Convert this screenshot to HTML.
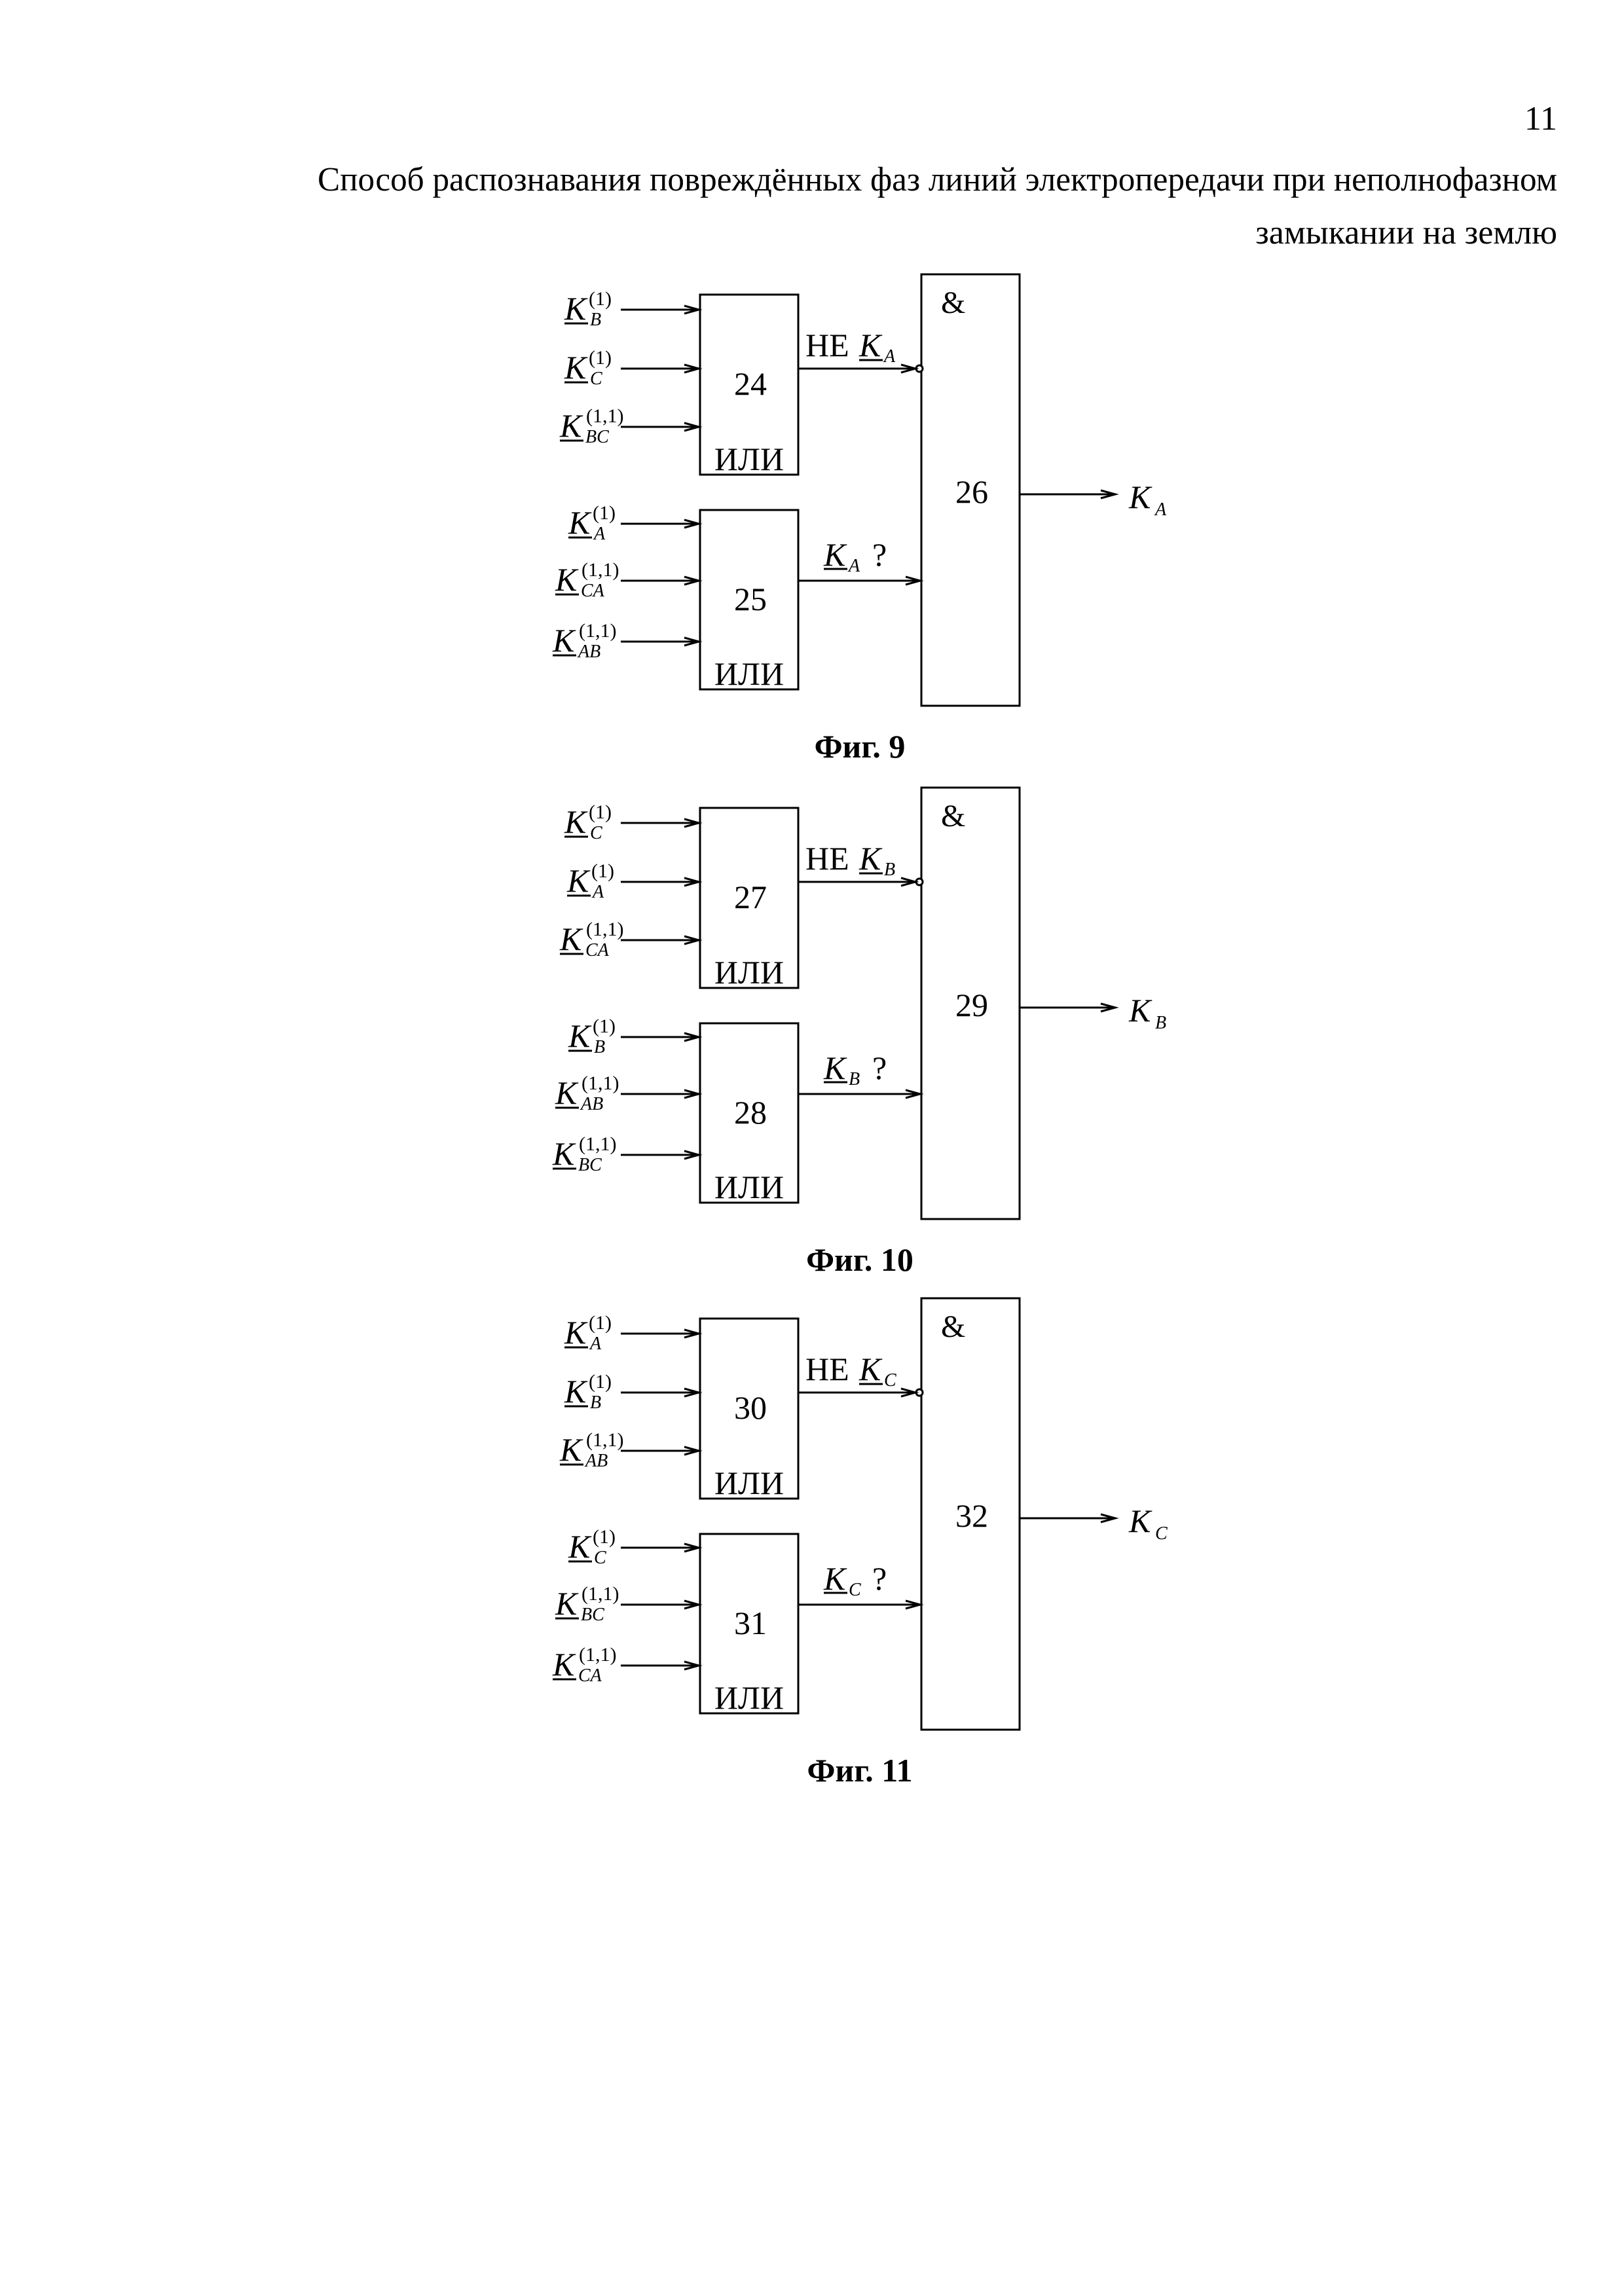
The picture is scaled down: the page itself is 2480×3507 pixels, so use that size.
<!DOCTYPE html>
<html><head><meta charset="utf-8"><style>
html,body{margin:0;padding:0;background:#fff}
svg{display:block}
text{font-family:"Liberation Serif",serif;fill:#000}
.K{font-size:50px;font-style:italic}
.sp{font-size:30px}
.sb{font-size:28px;font-style:italic}
.n{font-size:50px;text-anchor:middle}
.u{stroke:#000;stroke-width:3}
</style></head><body>
<svg width="2480" height="3507" viewBox="0 0 2480 3507" xmlns="http://www.w3.org/2000/svg">
<defs>
<g id="ar"><path d="M-22,-6 L0,0 L-22,6" fill="none" stroke="#000" stroke-width="3"/></g>
<g id="frame">
<g fill="none" stroke="#000" stroke-width="3">
<rect x="1069" y="450" width="150" height="275"/>
<rect x="1069" y="779" width="150" height="274"/>
<rect x="1407" y="419" width="150" height="659"/>
<line x1="948" y1="473" x2="1067" y2="473"/><line x1="948" y1="563" x2="1067" y2="563"/><line x1="948" y1="652" x2="1067" y2="652"/>
<line x1="948" y1="800" x2="1067" y2="800"/><line x1="948" y1="887" x2="1067" y2="887"/><line x1="948" y1="980" x2="1067" y2="980"/>
<line x1="1219" y1="563" x2="1399" y2="563"/>
<line x1="1219" y1="887" x2="1405" y2="887"/>
<line x1="1557" y1="755" x2="1702" y2="755"/>
</g>
<circle cx="1404" cy="563" r="5" fill="#fff" stroke="#000" stroke-width="3"/>
<use href="#ar" x="1067" y="473"/><use href="#ar" x="1067" y="563"/><use href="#ar" x="1067" y="652"/>
<use href="#ar" x="1067" y="800"/><use href="#ar" x="1067" y="887"/><use href="#ar" x="1067" y="980"/>
<use href="#ar" x="1398" y="563"/><use href="#ar" x="1405" y="887"/><use href="#ar" x="1703" y="755"/>
<text x="1144" y="718" font-size="50" text-anchor="middle">ИЛИ</text>
<text x="1144" y="1046" font-size="50" text-anchor="middle">ИЛИ</text>
<text x="1437" y="478" font-size="48">&amp;</text>
<text x="1230" y="544" font-size="50">НЕ</text>
<line class="u" x1="1312" y1="550" x2="1348" y2="550"/>
<line class="u" x1="1258" y1="869" x2="1294" y2="869"/>
<text x="1332" y="864" font-size="50">?</text>
</g>
</defs>
<text x="2378" y="198" font-size="52" text-anchor="end">11</text>
<text x="485" y="291" font-size="52" textLength="1893" lengthAdjust="spacingAndGlyphs">Способ распознавания повреждённых фаз линий электропередачи при неполнофазном</text>
<text x="2378" y="372" font-size="52" text-anchor="end">замыкании на землю</text>

<!-- FIG 9 -->
<g>
<use href="#frame"/>
<text class="n" x="1146" y="603">24</text><text class="n" x="1146" y="932">25</text><text class="n" x="1484" y="768">26</text>
<text class="K" x="862" y="488">K</text><line class="u" x1="862" y1="494" x2="898" y2="494"/><text class="sp" x="899" y="466">(1)</text><text class="sb" x="901" y="497">B</text>
<text class="K" x="862" y="578">K</text><line class="u" x1="862" y1="584" x2="898" y2="584"/><text class="sp" x="899" y="556">(1)</text><text class="sb" x="901" y="587">C</text>
<text class="K" x="855" y="667">K</text><line class="u" x1="855" y1="673" x2="891" y2="673"/><text class="sp" x="895" y="645">(1,1)</text><text class="sb" x="894" y="676">BC</text>
<text class="K" x="868" y="815">K</text><line class="u" x1="868" y1="821" x2="904" y2="821"/><text class="sp" x="905" y="793">(1)</text><text class="sb" x="907" y="824">A</text>
<text class="K" x="848" y="902">K</text><line class="u" x1="848" y1="908" x2="884" y2="908"/><text class="sp" x="888" y="880">(1,1)</text><text class="sb" x="887" y="911">CA</text>
<text class="K" x="844" y="995">K</text><line class="u" x1="844" y1="1001" x2="880" y2="1001"/><text class="sp" x="884" y="973">(1,1)</text><text class="sb" x="883" y="1004">AB</text>
<text class="K" x="1312" y="544">K</text><text class="sb" x="1350" y="553">A</text>
<text class="K" x="1258" y="864">K</text><text class="sb" x="1296" y="873">A</text>
<text class="K" x="1724" y="776">K</text><text class="sb" x="1764" y="787">A</text>
<text x="1313" y="1157" font-size="50" font-weight="bold" text-anchor="middle">Фиг. 9</text>
</g>

<!-- FIG 10 -->
<g transform="translate(0,784)">
<use href="#frame"/>
<text class="n" x="1146" y="603">27</text><text class="n" x="1146" y="932">28</text><text class="n" x="1484" y="768">29</text>
<text class="K" x="862" y="488">K</text><line class="u" x1="862" y1="494" x2="898" y2="494"/><text class="sp" x="899" y="466">(1)</text><text class="sb" x="901" y="497">C</text>
<text class="K" x="866" y="578">K</text><line class="u" x1="866" y1="584" x2="902" y2="584"/><text class="sp" x="903" y="556">(1)</text><text class="sb" x="905" y="587">A</text>
<text class="K" x="855" y="667">K</text><line class="u" x1="855" y1="673" x2="891" y2="673"/><text class="sp" x="895" y="645">(1,1)</text><text class="sb" x="894" y="676">CA</text>
<text class="K" x="868" y="815">K</text><line class="u" x1="868" y1="821" x2="904" y2="821"/><text class="sp" x="905" y="793">(1)</text><text class="sb" x="907" y="824">B</text>
<text class="K" x="848" y="902">K</text><line class="u" x1="848" y1="908" x2="884" y2="908"/><text class="sp" x="888" y="880">(1,1)</text><text class="sb" x="887" y="911">AB</text>
<text class="K" x="844" y="995">K</text><line class="u" x1="844" y1="1001" x2="880" y2="1001"/><text class="sp" x="884" y="973">(1,1)</text><text class="sb" x="883" y="1004">BC</text>
<text class="K" x="1312" y="544">K</text><text class="sb" x="1350" y="553">B</text>
<text class="K" x="1258" y="864">K</text><text class="sb" x="1296" y="873">B</text>
<text class="K" x="1724" y="776">K</text><text class="sb" x="1764" y="787">B</text>
<text x="1313" y="1157" font-size="50" font-weight="bold" text-anchor="middle">Фиг. 10</text>
</g>

<!-- FIG 11 -->
<g transform="translate(0,1564)">
<use href="#frame"/>
<text class="n" x="1146" y="603">30</text><text class="n" x="1146" y="932">31</text><text class="n" x="1484" y="768">32</text>
<text class="K" x="862" y="488">K</text><line class="u" x1="862" y1="494" x2="898" y2="494"/><text class="sp" x="899" y="466">(1)</text><text class="sb" x="901" y="497">A</text>
<text class="K" x="862" y="578">K</text><line class="u" x1="862" y1="584" x2="898" y2="584"/><text class="sp" x="899" y="556">(1)</text><text class="sb" x="901" y="587">B</text>
<text class="K" x="855" y="667">K</text><line class="u" x1="855" y1="673" x2="891" y2="673"/><text class="sp" x="895" y="645">(1,1)</text><text class="sb" x="894" y="676">AB</text>
<text class="K" x="868" y="815">K</text><line class="u" x1="868" y1="821" x2="904" y2="821"/><text class="sp" x="905" y="793">(1)</text><text class="sb" x="907" y="824">C</text>
<text class="K" x="848" y="902">K</text><line class="u" x1="848" y1="908" x2="884" y2="908"/><text class="sp" x="888" y="880">(1,1)</text><text class="sb" x="887" y="911">BC</text>
<text class="K" x="844" y="995">K</text><line class="u" x1="844" y1="1001" x2="880" y2="1001"/><text class="sp" x="884" y="973">(1,1)</text><text class="sb" x="883" y="1004">CA</text>
<text class="K" x="1312" y="544">K</text><text class="sb" x="1350" y="553">C</text>
<text class="K" x="1258" y="864">K</text><text class="sb" x="1296" y="873">C</text>
<text class="K" x="1724" y="776">K</text><text class="sb" x="1764" y="787">C</text>
<text x="1313" y="1157" font-size="50" font-weight="bold" text-anchor="middle">Фиг. 11</text>
</g>
</svg>
</body></html>
